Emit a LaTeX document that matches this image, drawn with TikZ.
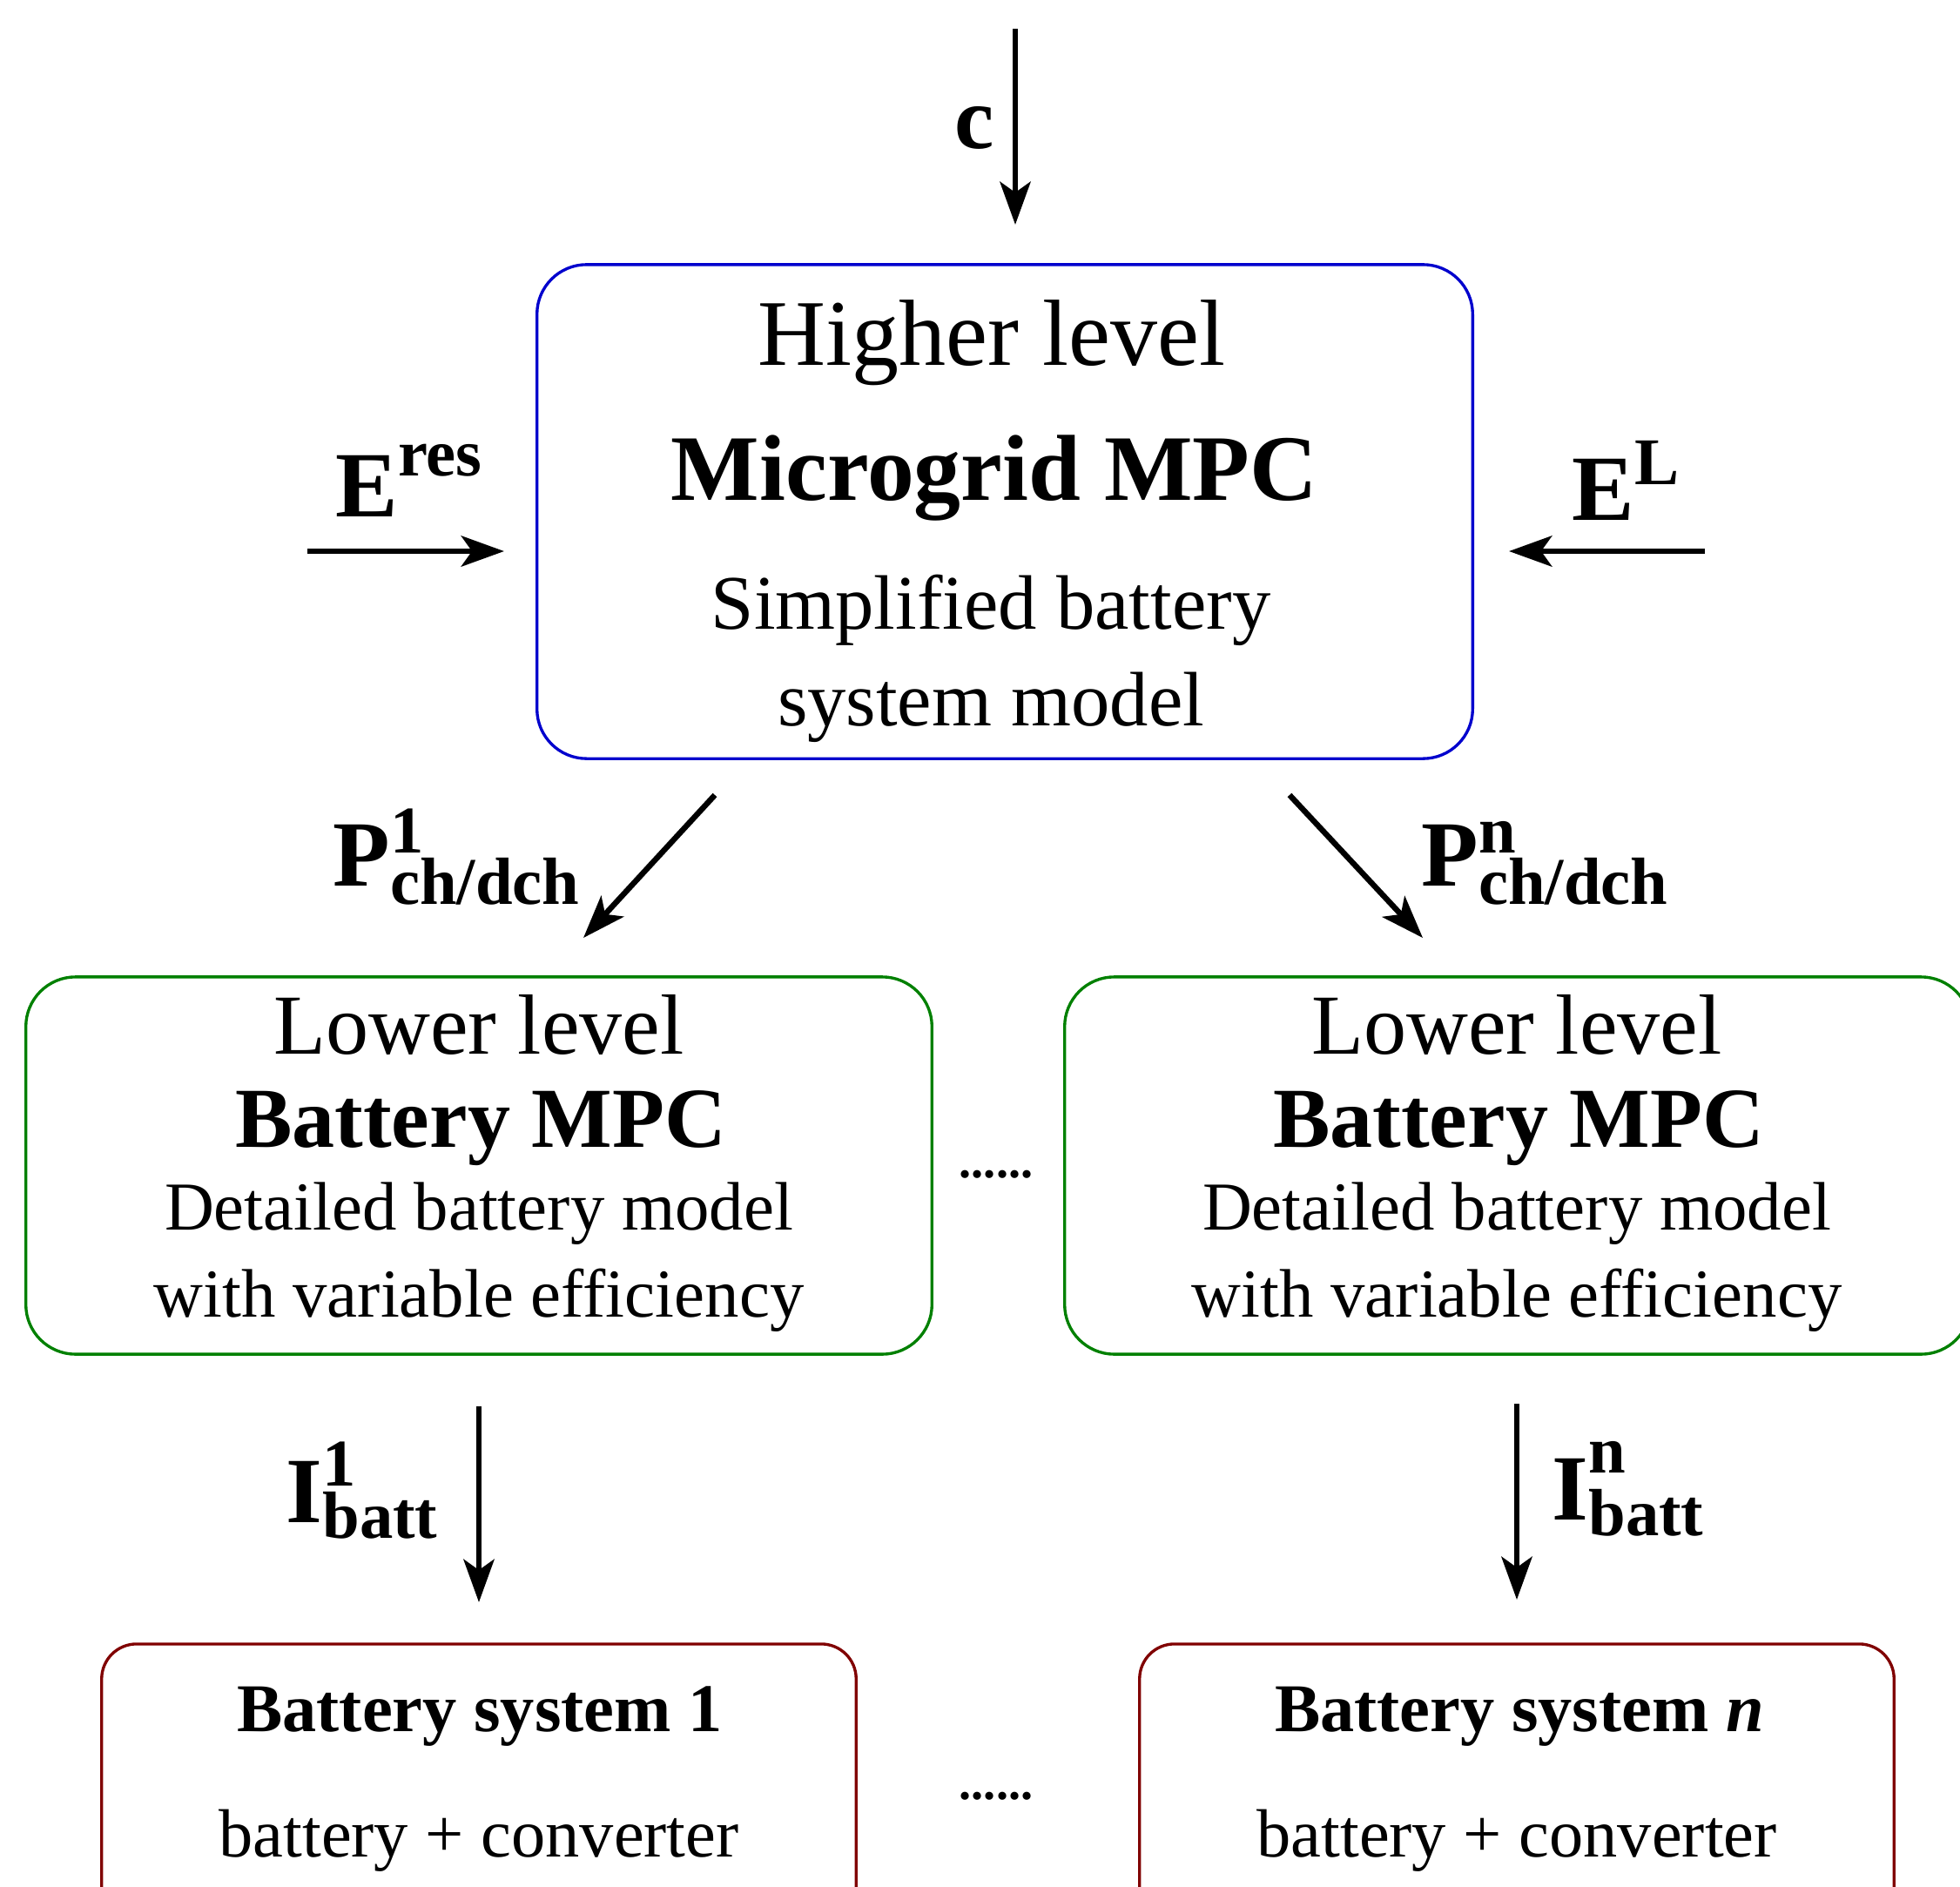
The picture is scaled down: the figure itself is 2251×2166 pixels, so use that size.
\documentclass[tikz,border=0pt]{standalone}
\usepackage{fontspec}
\setmainfont{Liberation Serif}
\usetikzlibrary{arrows.meta}
\definecolor{hiblue}{RGB}{0,0,205}
\definecolor{logreen}{RGB}{0,128,0}
\definecolor{sysred}{RGB}{128,0,0}
\newcommand{\bigfs}{\fontsize{30.5pt}{36pt}\selectfont}
\newcommand{\supfs}{\fontsize{21.8pt}{26pt}\selectfont}
\begin{document}
\begin{tikzpicture}[x=0.01cm,y=-0.01cm,
  arr/.style={line width=1.85pt,-{Stealth[length=14pt,width=10pt,inset=3.5pt]}},
  box/.style={draw,line width=0.95pt,inner sep=0pt},
  txt/.style={anchor=base,inner sep=0pt},
  lbl/.style={anchor=base west,inner sep=0pt,font=\bfseries},
  fhigh/.style={font=\fontsize{30.7pt}{36pt}\selectfont},
  fmicro/.style={font=\fontsize{30.6pt}{36pt}\selectfont\bfseries},
  fsimp/.style={font=\fontsize{25.2pt}{30pt}\selectfont},
  flow/.style={font=\fontsize{27.9pt}{33pt}\selectfont},
  flowb/.style={font=\fontsize{27.9pt}{33pt}\selectfont\bfseries},
  fdet/.style={font=\fontsize{22.4pt}{27pt}\selectfont},
  fsys/.style={font=\fontsize{22.3pt}{27pt}\selectfont},
  fsysb/.style={font=\fontsize{22.3pt}{27pt}\selectfont\bfseries},
  fdots/.style={font=\fontsize{16pt}{19pt}\selectfont\bfseries}]
\useasboundingbox (0,0) rectangle (2251,2166);

% boxes
\node[box,draw=hiblue,rounded corners=0.57cm,minimum width=10.74cm,minimum height=5.67cm] (high) at (1154,587.5) {};
\node[box,draw=logreen,rounded corners=0.57cm,minimum width=10.40cm,minimum height=4.33cm] (lowL) at (550,1338.5) {};
\node[box,draw=logreen,rounded corners=0.57cm,minimum width=10.40cm,minimum height=4.33cm] (lowR) at (1743,1338.5) {};
\node[box,draw=sysred,rounded corners=0.4cm,minimum width=8.66cm,minimum height=3.62cm] (sysL) at (550,2069) {};
\node[box,draw=sysred,rounded corners=0.4cm,minimum width=8.66cm,minimum height=3.62cm] (sysR) at (1742,2069) {};

% higher box text
\node[txt,fhigh] (t1) at (1139,419) {Higher level};
\node[txt,fmicro] (t2) at (1142,574) {Microgrid MPC};
\node[txt,fsimp] (t3) at (1138,722) {Simplified battery};
\node[txt,fsimp] (t4) at (1138,833) {system model};

% lower boxes text
\node[txt,flow] (l1) at (550,1210) {Lower level};
\node[txt,flowb] (l2) at (552,1317) {Battery MPC};
\node[txt,fdet] (l3) at (550,1412) {Detailed battery model};
\node[txt,fdet] (l4) at (550,1512) {with variable efficiency};
\node[txt,flow] (r1) at (1742,1210) {Lower level};
\node[txt,flowb] (r2) at (1744,1317) {Battery MPC};
\node[txt,fdet] (r3) at (1742,1412) {Detailed battery model};
\node[txt,fdet] (r4) at (1742,1512) {with variable efficiency};

% system boxes text
\node[txt,fsysb] (s1) at (551,1988) {Battery system 1};
\node[txt,fsys] (s2) at (550,2132) {battery + converter};
\node[txt,fsysb] (s3) at (1745,1988) {Battery system \textit{n}};
\node[txt,fsys] (s4) at (1742,2132) {battery + converter};

% dots
\node[fdots,anchor=base,inner sep=0pt] (dots1) at (1144,1352) {......};
\node[fdots,anchor=base,inner sep=0pt] (dots2) at (1144,2066) {......};

% top input
\coordinate (ctop) at (1166,33);
\coordinate (cend) at (1166,258);
\draw[arr] (ctop) -- (cend);
\node[lbl,font=\fontsize{29pt}{34pt}\selectfont\bfseries] (clab) at (1096,170) {c};

% E res
\coordinate (eresS) at (353,633);
\coordinate (eresE) at (579,633);
\draw[arr] (eresS) -- (eresE);
\node[lbl] (ereslab) at (385,593) {\bigfs E\raisebox{0.46cm}{\supfs res}};

% E L
\coordinate (elS) at (1958,633);
\coordinate (elE) at (1733,633);
\draw[arr] (elS) -- (elE);
\node[lbl] (ellab) at (1805,597) {\bigfs E\raisebox{0.40cm}{\supfs L}};

% P arrows
\coordinate (p1S) at (821,913);
\coordinate (p1E) at (670,1077);
\draw[arr] (p1S) -- (p1E);
\coordinate (pnS) at (1481,913);
\coordinate (pnE) at (1634,1077);
\draw[arr] (pnS) -- (pnE);
\node[lbl] (p1lab) at (382,1017) {\bigfs P\rlap{\raisebox{0.37cm}{\supfs 1}}\raisebox{-0.21cm}{\supfs ch/dch}};
\node[lbl] (pnlab) at (1632,1017) {\bigfs P\rlap{\raisebox{0.37cm}{\supfs n}}\raisebox{-0.21cm}{\supfs ch/dch}};

% I arrows
\coordinate (i1S) at (550,1615);
\coordinate (i1E) at (550,1840);
\draw[arr] (i1S) -- (i1E);
\coordinate (inS) at (1742,1612);
\coordinate (inE) at (1742,1837);
\draw[arr] (inS) -- (inE);
\node[lbl] (i1lab) at (328,1748) {\bigfs I\rlap{\raisebox{0.42cm}{\supfs 1}}\raisebox{-0.18cm}{\supfs batt}};
\node[lbl] (inlab) at (1782,1745) {\bigfs I\rlap{\raisebox{0.53cm}{\supfs n}}\raisebox{-0.18cm}{\supfs batt}};
\end{tikzpicture}
\end{document}
